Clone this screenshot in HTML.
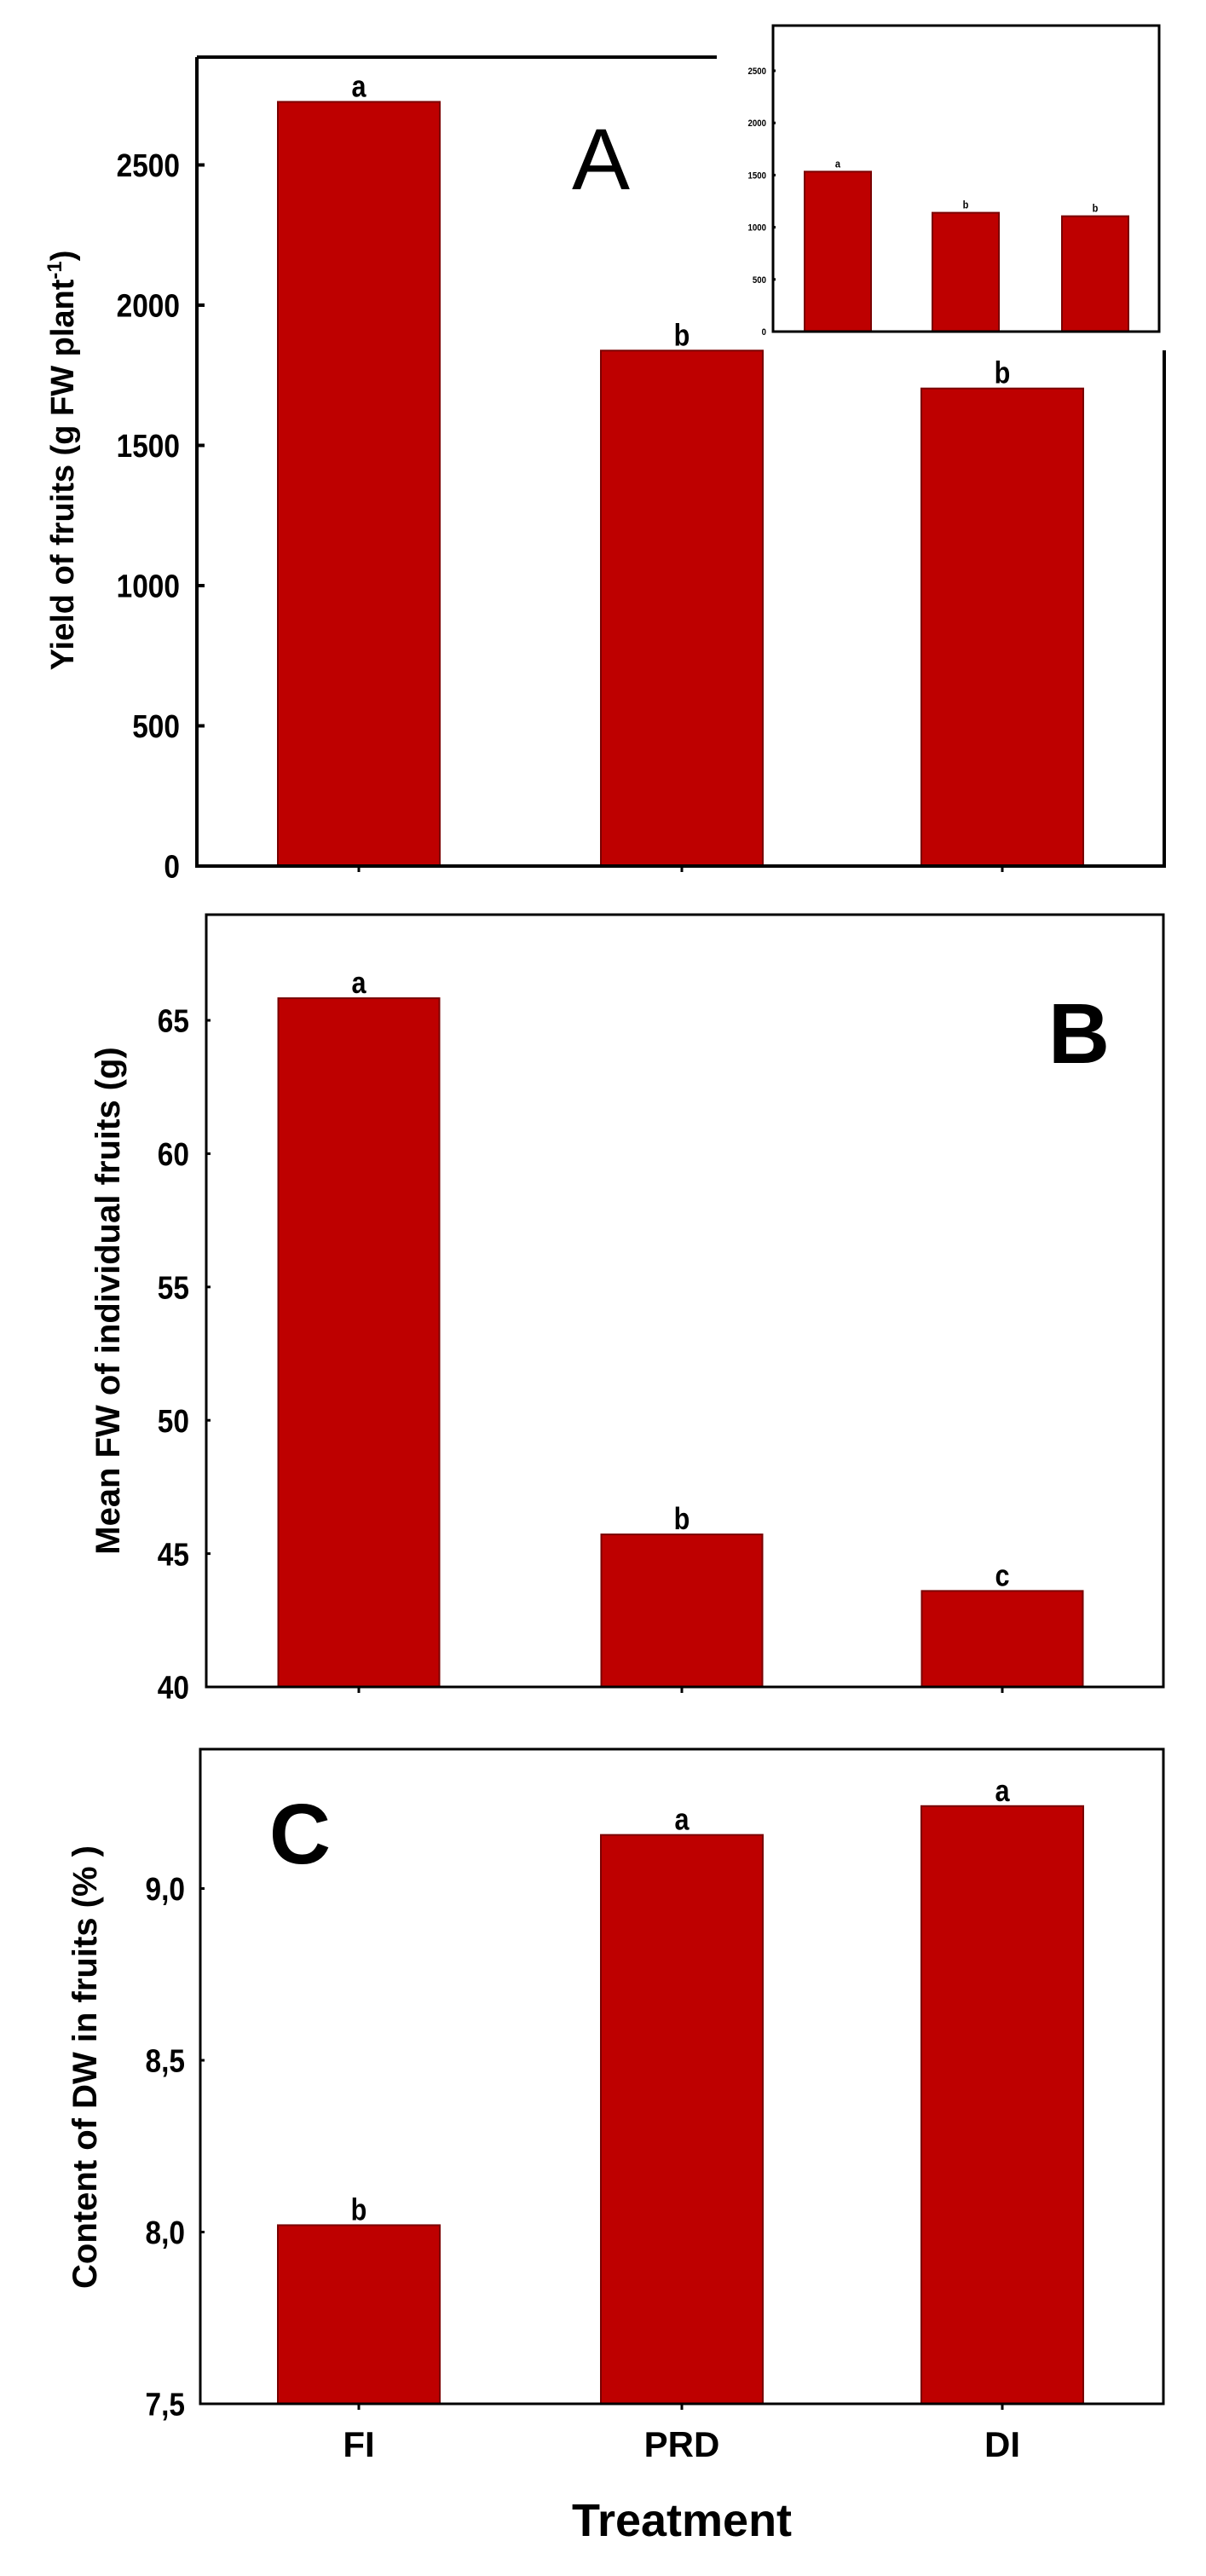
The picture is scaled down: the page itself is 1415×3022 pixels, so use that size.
<!DOCTYPE html>
<html><head><meta charset="utf-8">
<style>
html,body{margin:0;padding:0;background:#fff;}
svg{display:block;}
text{font-family:"Liberation Sans",Arial,sans-serif;fill:#000;}
</style></head>
<body>
<svg id="fig" width="1415" height="3022" viewBox="0 0 1415 3022" xmlns="http://www.w3.org/2000/svg"></svg>
<script>
const categories = ["FI", "PRD", "DI"];
const yieldValues = [2725, 1838, 1703];
const yieldLetters = ["a", "b", "b"];
const yieldTicks = [0, 500, 1000, 1500, 2000, 2500];
const insetValues = [1533, 1139, 1106];
const insetLetters = ["a", "b", "b"];
const insetTicks = [0, 500, 1000, 1500, 2000, 2500];
const fwValues = [65.83, 45.72, 43.6];
const fwLetters = ["a", "b", "c"];
const fwTicks = [40, 45, 50, 55, 60, 65];
const fwTickLabels = ["40", "45", "50", "55", "60", "65"];
const dwValues = [8.02, 9.156, 9.24];
const dwLetters = ["b", "a", "a"];
const dwTicks = [7.5, 8.0, 8.5, 9.0];
const dwTickLabels = ["7,5", "8,0", "8,5", "9,0"];

const NS = "http://www.w3.org/2000/svg";
const svg = document.getElementById("fig");
function mk(tag, attrs, parent) {
  const e = document.createElementNS(NS, tag);
  for (const k in attrs) e.setAttribute(k, attrs[k]);
  (parent || svg).appendChild(e);
  return e;
}
function txt(str, attrs, parent) { const t = mk("text", attrs, parent); t.textContent = str; return t; }

function panel(cfg) {
  const g = mk("g", {});
  
  
  const y = v => cfg.y0 - (v - cfg.vmin) * cfg.ppu;
  const xc = i => cfg.xcs[i];
  cfg.values.forEach((v, i) => {
    const r = mk("rect", {x: xc(i) - cfg.bw / 2, y: y(v), width: cfg.bw, height: cfg.y0 - y(v), fill: "#be0000", stroke: "#7a0000", "stroke-width": cfg.sw}, g);
    
    
    const l = txt(cfg.letters[i], {x: xc(i), y: y(v) - cfg.lgap, "text-anchor": "middle", "font-size": cfg.lfs, "font-weight": "bold", transform: "translate(" + xc(i) + ",0) scale(0.85,1) translate(" + (-xc(i)) + ",0)"}, g);
    
    
  });
  const fr = mk("path", {d: cfg.frame, fill: "none", stroke: "#000", "stroke-width": cfg.fw}, g);
  
  
  cfg.ticks.forEach((t, i) => {
    mk("line", {x1: cfg.xl, x2: cfg.xl + cfg.tl, y1: y(t), y2: y(t), stroke: "#000", "stroke-width": cfg.fw}, g);
    const tx = cfg.xl - cfg.tgap;
    const tl = txt(cfg.tickLabels[i], {x: tx, y: y(t) + cfg.tfs * 0.36, "text-anchor": "end", "font-size": cfg.tfs, "font-weight": "bold", transform: "translate(" + tx + ",0) scale(0.88,1) translate(" + (-tx) + ",0)"}, g);
    
    
  });
  if (cfg.xticks) categories.forEach((c, i) => {
    mk("line", {x1: xc(i), x2: xc(i), y1: cfg.y0, y2: cfg.y0 + 7, stroke: "#000", "stroke-width": 3}, g);
  });
  return g;
}

const xcs = [421, 800, 1176];
panel({name: "panel-a", values: yieldValues, letters: yieldLetters, ticks: yieldTicks, tickLabels: yieldTicks.map(String),
  vmin: 0, y0: 1016, ppu: 164.5 / 500, xcs: xcs, bw: 190, sw: 2, lfs: 36, lgap: 6,
  frame: "M231,67 L841,67 M231,67 L231,1016 L1366,1016 L1366,411", fw: 4, xl: 231, tl: 9, tgap: 20, tfs: 38, xticks: true});
panel({name: "inset-panel", values: insetValues, letters: insetLetters, ticks: insetTicks, tickLabels: insetTicks.map(String),
  vmin: 0, y0: 389, ppu: 61.2 / 500, xcs: [983, 1133, 1285], bw: 78, sw: 2, lfs: 13, lgap: 5,
  frame: "M907,30 L1360,30 L1360,389 L907,389 Z", fw: 3, xl: 907, tl: 3, tgap: 8, tfs: 11, xticks: false});
panel({name: "panel-b", values: fwValues, letters: fwLetters, ticks: fwTicks, tickLabels: fwTickLabels,
  vmin: 40, y0: 1979, ppu: 31.28, xcs: xcs, bw: 189, sw: 2, lfs: 36, lgap: 6,
  frame: "M242,1073 L1365,1073 L1365,1979 L242,1979 Z", fw: 3, xl: 242, tl: 5, tgap: 20, tfs: 38, xticks: true});
panel({name: "panel-c", values: dwValues, letters: dwLetters, ticks: dwTicks, tickLabels: dwTickLabels,
  vmin: 7.5, y0: 2820, ppu: 403, xcs: xcs, bw: 190, sw: 2, lfs: 36, lgap: 6,
  frame: "M235,2052 L1365,2052 L1365,2820 L235,2820 Z", fw: 3, xl: 235, tl: 5, tgap: 18, tfs: 38, xticks: true});
</script>
<script>
(function(){
const NS = "http://www.w3.org/2000/svg";
const svg = document.getElementById("fig");
function t(str, a, name) {
  const e = document.createElementNS(NS, "text");
  for (const k in a) e.setAttribute(k, a[k]);
  e.textContent = str;
  
  
  svg.appendChild(e);
  return e;
}
t("A", {x: 705, y: 222, "text-anchor": "middle", "font-size": 102}, "panel-label-a");
t("B", {x: 1266, y: 1247, "text-anchor": "middle", "font-size": 100, "font-weight": "bold"}, "panel-label-b");
t("C", {x: 352, y: 2186, "text-anchor": "middle", "font-size": 100, "font-weight": "bold"}, "panel-label-c");
const ya = t("Yield of fruits (g FW plant", {x: 0, y: 0, "text-anchor": "middle", "font-size": 38, "font-weight": "bold", transform: "translate(86,540) rotate(-90)"}, "y-axis-title-a");
const sup = document.createElementNS(NS, "tspan"); sup.setAttribute("font-size", "24"); sup.setAttribute("dy", "-14"); sup.textContent = "-1";
ya.appendChild(sup);
const cl = document.createElementNS(NS, "tspan"); cl.setAttribute("dy", "14"); cl.textContent = ")";
ya.appendChild(cl);
t("Mean FW of individual fruits (g)", {x: 0, y: 0, "text-anchor": "middle", "font-size": 40, "font-weight": "bold", transform: "translate(140,1526) rotate(-90)"}, "y-axis-title-b");
t("Content of DW in fruits (% )", {x: 0, y: 0, "text-anchor": "middle", "font-size": 40, "font-weight": "bold", transform: "translate(113,2425) rotate(-90)"}, "y-axis-title-c");
[["FI",421],["PRD",800],["DI",1176]].forEach(function(c){
  t(c[0], {x: c[1], y: 2882, "text-anchor": "middle", "font-size": 42, "font-weight": "bold"}, "x-tick-label-" + c[0].toLowerCase());
});
t("Treatment", {x: 800, y: 2975, "text-anchor": "middle", "font-size": 54, "font-weight": "bold"}, "x-axis-title");
})();
</script>
</body></html>
